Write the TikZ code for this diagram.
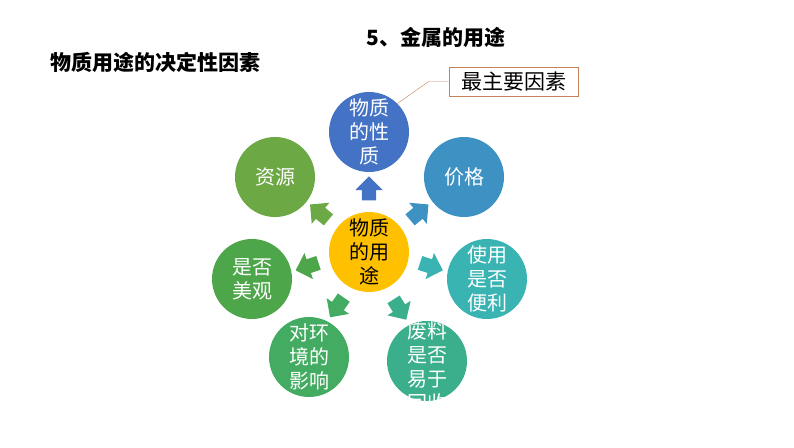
\documentclass[tikz,border=0pt]{standalone}
\usepackage{fontspec}
\setmainfont{Noto Sans CJK SC}
\usetikzlibrary{shapes.arrows}
\definecolor{cTop}{HTML}{4472C4}
\definecolor{cPrice}{HTML}{3D92C3}
\definecolor{cUse}{HTML}{3AB3B3}
\definecolor{cWaste}{HTML}{3BAE8C}
\definecolor{cEnv}{HTML}{44AC62}
\definecolor{cLook}{HTML}{4EA64A}
\definecolor{cRes}{HTML}{6CA844}
\definecolor{cCen}{HTML}{FFC000}
\definecolor{cBox}{HTML}{C5815A}
\begin{document}
\begin{tikzpicture}[x=1pt,y=-1pt,
  bub/.style={circle,minimum size=80pt,inner sep=0pt,text=white,font=\fontsize{20}{24}\selectfont,align=center},
  arr/.style={single arrow,minimum height=24pt,minimum width=27pt,single arrow head extend=6.5pt,inner xsep=0pt,inner ysep=7pt}]
\useasboundingbox (0,0) rectangle (794,447);
\node[font=\bfseries\fontsize{21}{24}\selectfont] (t1) at (436,37) {5、金属的用途};
\node[font=\bfseries\fontsize{21}{24}\selectfont] (t2) at (155,62) {物质用途的决定性因素};
\node[bub,fill=cCen,text=black] (c) at (369,252) {物质\\的用\\途};
\node[bub,fill=cTop] (top) at (369,132) {物质\\的性\\质};
\node[bub,fill=cPrice] (price) at (464,177) {价格};
\node[bub,fill=cRes] (res) at (275,177) {资源};
\node[bub,fill=cLook] (look) at (252,279) {是否\\美观};
\node[bub,fill=cUse] (use) at (487,279) {使用\\是否\\便利};
\node[bub,fill=cEnv] (env) at (309,357) {对环\\境的\\影响};
\node[bub,fill=cWaste] (waste) at (427,361) {};
\begin{scope}
\clip (427,361) circle (40pt);
\node[text=white,font=\fontsize{20}{24}\selectfont,align=center] (wt) at (427,367) {废料\\是否\\易于\\回收};
\end{scope}
\foreach \tg/\ang/\col in {top/90/cTop,price/40/cPrice,res/140/cRes,look/-162/cLook,use/-18/cUse,env/-125/cEnv,waste/-58/cWaste}{
  \path (c) -- (\tg) node[pos=0.5,arr,fill=\col,rotate=\ang,sloped=false] {};
}
\node[draw=cBox,thick,font=\fontsize{21}{24}\selectfont,minimum width=129pt,minimum height=29pt,inner sep=2pt] (box) at (513.5,81.5) {最主要因素};
\draw[cBox] (box.west) -- ++(-20,0) coordinate (k) -- (top.north east);
\end{tikzpicture}
\end{document}
